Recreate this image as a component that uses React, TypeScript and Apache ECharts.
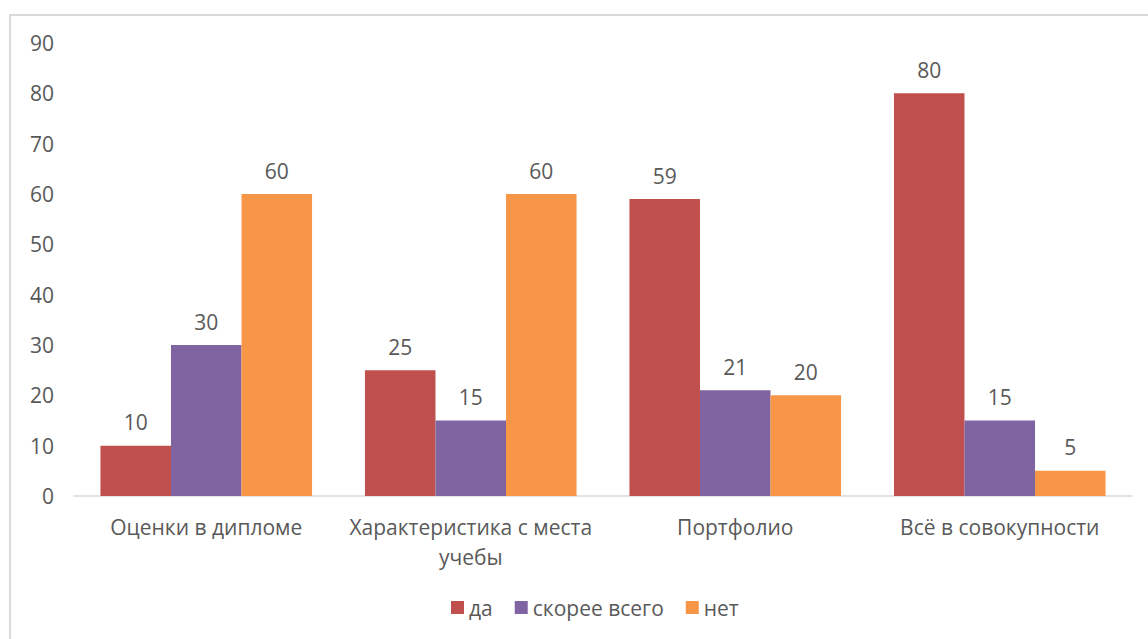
import React, { useEffect, useRef } from "react";
import * as echarts from "echarts";

const categories = ["Оценки в дипломе", "Характеристика с места учебы", "Портфолио", "Всё в совокупности"];
const seriesNames = ["да", "скорее всего", "нет"];
const yesValues = [10, 25, 59, 80];
const maybeValues = [30, 15, 21, 15];
const noValues = [60, 60, 20, 5];
const colors = ["#C0504D", "#8064A2", "#F79646"];

const FONT = "'Open Sans', sans-serif";
const TEXT = "#595959";
const FS = 21;

export default function App() {
  const ref = useRef<HTMLDivElement>(null);
  useEffect(() => {
    const chart = echarts.init(ref.current!, null, { renderer: "svg" });
    const values = [yesValues, maybeValues, noValues];
    chart.setOption({
      animation: false,
      backgroundColor: "#ffffff",
      graphic: [
        {
          type: "polyline",
          shape: { points: [[10, 660], [10, 15], [1160, 15]] },
          style: { stroke: "#d9d9d9", lineWidth: 2, fill: "none" },
        },
      ],
      grid: { left: 74, right: 16, top: 43, bottom: 143, containLabel: false },
      legend: {
        bottom: 16,
        left: 446,
        itemWidth: 13,
        itemHeight: 13,
        itemGap: 22,
        icon: "rect",
        textStyle: { color: TEXT, fontSize: FS, fontFamily: FONT },
        data: seriesNames,
      },
      xAxis: {
        type: "category",
        data: categories,
        axisLine: { lineStyle: { color: "#d9d9d9", width: 1.5 } },
        axisTick: { show: false },
        axisLabel: {
          color: TEXT,
          fontSize: FS,
          fontFamily: FONT,
          margin: 16,
          lineHeight: 30,
          interval: 0,
          formatter: (v: string) => (v === "Характеристика с места учебы" ? "Характеристика с места\nучебы" : v),
        },
      },
      yAxis: {
        type: "value",
        min: 0,
        max: 90,
        interval: 10,
        axisLine: { show: false },
        axisTick: { show: false },
        splitLine: { show: false },
        axisLabel: { color: TEXT, fontSize: FS, fontFamily: FONT, margin: 20 },
      },
      series: seriesNames.map((name, i) => ({
        name,
        type: "bar",
        data: values[i],
        barGap: "0%",
        barCategoryGap: "20%",
        itemStyle: { color: colors[i] },
        label: {
          show: true,
          position: "top",
          distance: 13,
          color: TEXT,
          fontSize: FS,
          fontFamily: FONT,
        },
      })),
    });
    return () => chart.dispose();
  }, []);
  return (
    <div
      ref={ref}
      style={{ position: "fixed", left: 0, top: 0, width: 1148, height: 639 }}
    />
  );
}
